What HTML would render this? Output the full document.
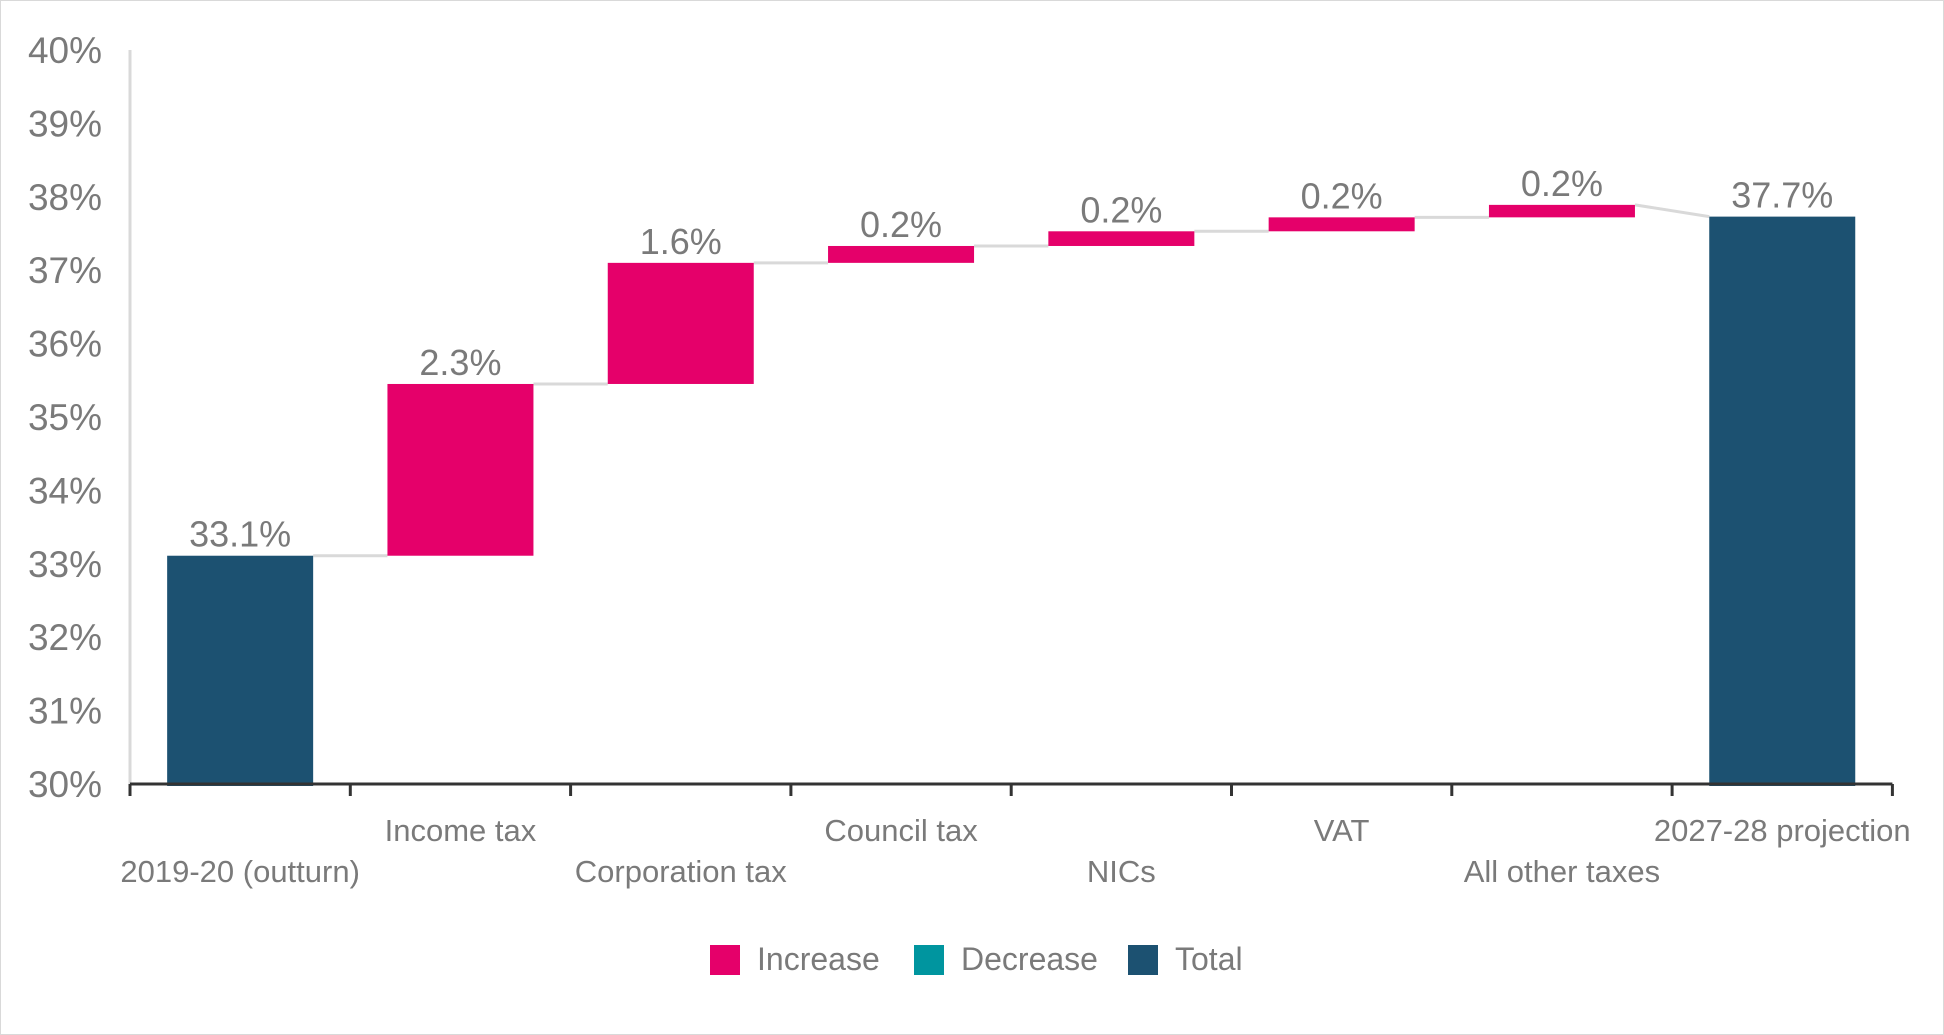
<!DOCTYPE html>
<html><head><meta charset="utf-8"><style>
body{margin:0;background:#fff}
svg{display:block;font-family:"Liberation Sans",sans-serif}
</style></head><body>
<svg width="1944" height="1035" viewBox="0 0 1944 1035">
<rect x="0.5" y="0.5" width="1943" height="1034" fill="#fff" stroke="#d9d9d9"/>
<g id="g"></g>
</svg>
<script>
const categories=["2019-20 (outturn)","Income tax","Corporation tax","Council tax","NICs","VAT","All other taxes","2027-28 projection"];
const changes=[33.11,2.34,1.65,0.23,0.2,0.19,0.17,37.73];
const kinds=["total","inc","inc","inc","inc","inc","inc","total"];
const labels=["33.1%","2.3%","1.6%","0.2%","0.2%","0.2%","0.2%","37.7%"];
const yTicks=[30,31,32,33,34,35,36,37,38,39,40];

const NS="http://www.w3.org/2000/svg";
const g=document.getElementById('g');
const x0=130,cw=220.3,y0=784,y1=50,ymin=30,ymax=40;
const Y=v=>y0-(v-ymin)/(ymax-ymin)*(y0-y1);
const X=i=>x0+i*cw;
const col={inc:"#E5006A",dec:"#00959F",total:"#1C5171"};
function el(t,a,p){const e=document.createElementNS(NS,t);for(const k in a)e.setAttribute(k,a[k]);(p||g).appendChild(e);return e;}

const ax=el('line',{x1:x0,y1:y1,x2:x0,y2:y0,stroke:"#d9d9d9","stroke-width":3});


yTicks.forEach(v=>{
  const t=el('text',{x:102,y:Y(v)+13,"text-anchor":"end","font-size":37,fill:"#7a7a7a"});
  t.textContent=v+"%";
  
  
});

let cum=0;const tops=[],bases=[];
changes.forEach((c,i)=>{
  let b,t;
  if(kinds[i]==="total"){b=ymin;t=c;cum=c;}
  else{b=cum;t=cum+c;cum=t;}
  bases.push(b);tops.push(t);
});
for(let i=0;i<changes.length-1;i++){
  const nx=kinds[i+1]==="total"?tops[i+1]:bases[i+1];
  const l=el('line',{x1:X(i)+cw/2+73,y1:Y(tops[i]),x2:X(i+1)+cw/2-73,y2:Y(nx),stroke:"#d9d9d9","stroke-width":3});
  
  
}
changes.forEach((c,i)=>{
  const cx=X(i)+cw/2;
  const top=Y(tops[i]),bot=kinds[i]==="total"?y0+2:Y(bases[i]);
  const r=el('rect',{x:cx-73,y:top,width:146,height:bot-top,fill:col[kinds[i]]});
  
  
  const t=el('text',{x:cx,y:top-9,"text-anchor":"middle","font-size":36,fill:"#7a7a7a"});
  t.textContent=labels[i];
  
  
  const cl=el('text',{x:cx,y:(i%2?841:882),"text-anchor":"middle","font-size":31,fill:"#7a7a7a"});
  cl.textContent=categories[i];
  
  
});
const xa=el('line',{x1:x0,y1:y0,x2:X(8),y2:y0,stroke:"#333","stroke-width":3});


for(let i=0;i<=8;i++){
  const tk=el('line',{x1:X(i),y1:y0,x2:X(i),y2:y0+12,stroke:"#333","stroke-width":3});
  
  
}
const leg=[["Increase",710,"inc"],["Decrease",914,"dec"],["Total",1128,"total"]];
leg.forEach(([n,x,k])=>{
  const s=el('rect',{x:x,y:945,width:30,height:30,fill:col[k]});
  
  
  const t=el('text',{x:x+47,y:970,"font-size":32,fill:"#7a7a7a"});
  t.textContent=n;
  
  
});
</script>
</body></html>
